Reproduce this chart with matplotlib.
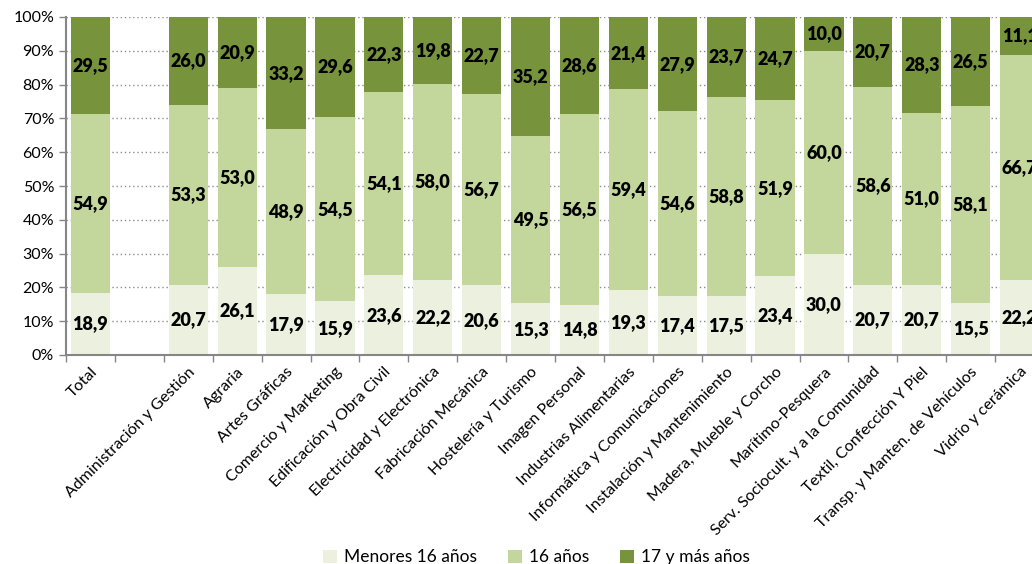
import matplotlib
matplotlib.use("Agg")
import matplotlib.pyplot as plt
import numpy as np
from matplotlib.ticker import FixedLocator, PercentFormatter

plt.rcParams['font.family'] = ['Lato', 'DejaVu Sans']

categories = ["Total", "", "Administración y Gestión", "Agraria", "Artes Gráficas",
              "Comercio y Marketing", "Edificación y Obra Civil", "Electricidad y Electrónica",
              "Fabricación Mecánica", "Hostelería y Turismo", "Imagen Personal",
              "Industrias Alimentarias", "Informática y Comunicaciones",
              "Instalación y Mantenimiento", "Madera, Mueble y Corcho", "Marítimo-Pesquera",
              "Serv. Sociocult. y a la Comunidad", "Textil, Confección Y Piel",
              "Transp. y Manten. de Vehículos", "Vidrio y cerámica"]
menores16 = [18.9, None, 20.7, 26.1, 17.9, 15.9, 23.6, 22.2, 20.6, 15.3, 14.8, 19.3, 17.4, 17.5, 23.4, 30.0, 20.7, 20.7, 15.5, 22.2]
anos16 = [54.9, None, 53.3, 53.0, 48.9, 54.5, 54.1, 58.0, 56.7, 49.5, 56.5, 59.4, 54.6, 58.8, 51.9, 60.0, 58.6, 51.0, 58.1, 66.7]
anos17mas = [29.5, None, 26.0, 20.9, 33.2, 29.6, 22.3, 19.8, 22.7, 35.2, 28.6, 21.4, 27.9, 23.7, 24.7, 10.0, 20.7, 28.3, 26.5, 11.1]
series_names = ["Menores 16 años", "16 años", "17 y más años"]
colors = ["#EBF1DE", "#C3D69B", "#77933C"]

W, H = 1032, 564
fig = plt.figure(figsize=(W / 100, H / 100), dpi=100)
ax = fig.add_axes([66 / W, 1 - 355 / H, (1044 - 66) / W, (355 - 17) / H])

n = len(categories)
x = np.arange(n)
data = [menores16, anos16, anos17mas]
idx = [i for i in range(n) if menores16[i] is not None]
totals = np.array([sum(d[i] for d in data) for i in idx])
bottom = np.zeros(len(idx))
for s, (vals, c, name) in enumerate(zip(data, colors, series_names)):
    v = np.array([vals[i] for i in idx])
    pct = v / totals * 100
    ax.bar(x[idx], pct, bottom=bottom, width=0.8, color=c, label=name, zorder=2)
    for xi, b, p, raw in zip(x[idx], bottom, pct, v):
        ax.text(xi, b + p / 2, f"{raw:.1f}".replace(".", ","), ha="center", va="center",
                fontsize=13, fontweight="heavy", color="black", zorder=3)
    bottom = bottom + pct

ax.set_xlim(-0.5, n - 0.5)
ax.set_ylim(0, 100)
ax.yaxis.set_major_locator(FixedLocator(np.arange(0, 101, 10)))
ax.yaxis.set_major_formatter(PercentFormatter(decimals=0))
ax.grid(axis="y", linestyle=(0, (1, 2)), color="#8C8C8C", linewidth=1, zorder=0)
ax.set_axisbelow(True)

ax.set_xticks(x)
ax.set_xticklabels(categories, rotation=45, ha="right", rotation_mode="anchor", fontsize=11.5)
ax.tick_params(axis="x", length=0, pad=7)
ax.set_xticks(np.arange(-0.5, n, 1), minor=True)
ax.tick_params(axis="x", which="minor", length=5, color="#868686", width=1)
ax.tick_params(axis="y", labelsize=11.5, length=5, color="#868686", width=1)

for sp in ["top", "right"]:
    ax.spines[sp].set_visible(False)
for sp in ["left", "bottom"]:
    ax.spines[sp].set_color("#868686")
    ax.spines[sp].set_linewidth(1.5)

handles, labels = ax.get_legend_handles_labels()
fig.legend(handles, labels, loc="lower center", bbox_to_anchor=(0.52, -0.03), ncol=3,
           frameon=False, fontsize=12.5, handlelength=0.8, handleheight=0.8,
           handletextpad=0.4, columnspacing=1.8)

fig.savefig("out.png", dpi=100)
